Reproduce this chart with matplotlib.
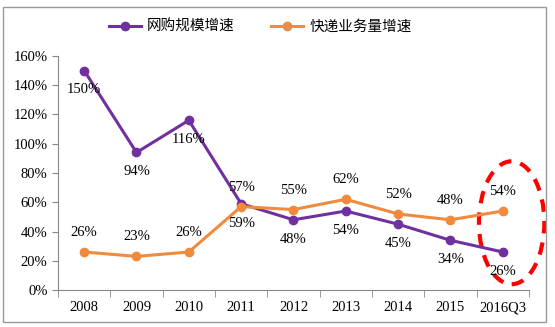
import matplotlib.pyplot as plt
from matplotlib.patches import Ellipse, Rectangle
import numpy as np

plt.rcParams['font.family'] = ['Liberation Serif', 'Noto Sans CJK SC', 'DejaVu Sans']

# data
years = ["2008", "2009", "2010", "2011", "2012", "2013", "2014", "2015", "2016Q3"]
online = [150, 94, 116, 59, 48, 54, 45, 34, 26]
express = [26, 23, 26, 57, 55, 62, 52, 48, 54]

fig = plt.figure(figsize=(5.55, 3.27), dpi=100)
ax = fig.add_axes([0.1045, 0.113, 0.8485, 0.716])
x = np.arange(len(years))

ax.plot(x, online, color="#7030A0", lw=2.2, marker="o", ms=6, label="网购规模增速")
ax.plot(x, express, color="#F08A3C", lw=2.2, marker="o", ms=6, label="快递业务量增速")

for i in range(len(x)):
    ax.annotate(f"{online[i]}%", (x[i], online[i]), xytext=(0, -14), textcoords="offset points",
                ha="center", va="center", fontsize=10.5)
    ax.annotate(f"{express[i]}%", (x[i], express[i]), xytext=(0, 14), textcoords="offset points",
                ha="center", va="center", fontsize=10.5)

ax.set_xlim(-0.5, len(years) - 0.5)
ax.set_ylim(0, 160)
ax.set_yticks(range(0, 161, 20))
ax.set_yticklabels([f"{v}%" for v in range(0, 161, 20)], fontsize=10.5)
ax.set_xticks(x)
ax.set_xticklabels(years, fontsize=10.5)
ax.set_xticks(np.arange(-0.5, len(years), 1), minor=True)
ax.tick_params(axis="x", which="major", length=0, pad=8)
ax.tick_params(axis="x", which="minor", length=5, color="#888888")
ax.tick_params(axis="y", length=4, color="#888888")
for s in ["top", "right"]:
    ax.spines[s].set_visible(False)
for s in ["left", "bottom"]:
    ax.spines[s].set_color("#888888")

ax.legend(loc="center", bbox_to_anchor=(0.43, 1.124), ncol=2, frameon=False,
          prop={"family": ["Noto Sans CJK SC"], "size": 10.5}, handlelength=2.2,
          columnspacing=2.5, handletextpad=0.4)

ell = Ellipse((8.17, 46), 1.25, 84, fill=False, edgecolor="red", lw=3, ls=(0, (3, 2.2)),
              clip_on=False)
ax.add_patch(ell)

fig.patches.append(Rectangle((0.006, 0.015), 0.978, 0.965, transform=fig.transFigure,
                             fill=False, edgecolor="#999999", lw=1))

fig.savefig("out.png", dpi=100)
